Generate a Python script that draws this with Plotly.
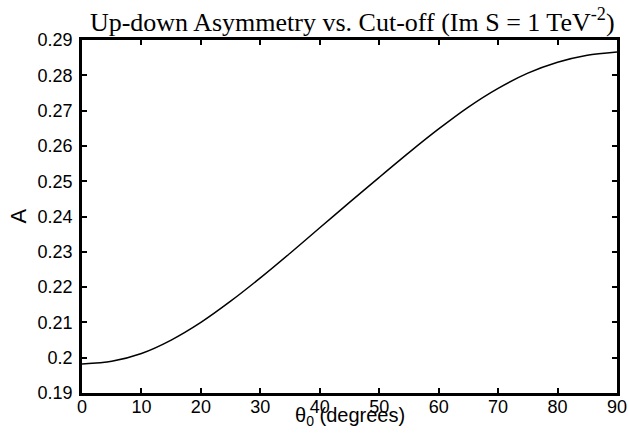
import plotly.graph_objects as go

theta0_deg = [0, 5, 10, 15, 20, 25, 30, 35, 40, 45, 50, 55, 60, 65, 70, 75, 80, 85, 90]
asymmetry_A = [0.1982, 0.1990, 0.2012, 0.2050, 0.2100, 0.2160, 0.2226, 0.2296, 0.2368,
               0.2440, 0.2511, 0.2581, 0.2648, 0.2710, 0.2763, 0.2806, 0.2837, 0.2857, 0.2866]

x_ticks = [0, 10, 20, 30, 40, 50, 60, 70, 80, 90]
y_ticks = [0.19, 0.20, 0.21, 0.22, 0.23, 0.24, 0.25, 0.26, 0.27, 0.28, 0.29]
y_tick_labels = ["0.19", "0.2", "0.21", "0.22", "0.23", "0.24", "0.25", "0.26", "0.27", "0.28", "0.29"]

fig = go.Figure()
fig.add_trace(go.Scatter(x=theta0_deg, y=asymmetry_A, mode="lines",
                         line=dict(color="black", width=1.5, shape="spline", smoothing=0.8),
                         showlegend=False, hoverinfo="skip"))

sans = "Liberation Sans, Arial, sans-serif"
fig.update_layout(
    width=629, height=434,
    margin=dict(l=82, r=12, t=40, b=41, autoexpand=False),
    paper_bgcolor="white", plot_bgcolor="white",
    title=dict(text="Up-down Asymmetry vs. Cut-off (Im S = 1 TeV<sup>-2</sup>)",
               font=dict(family="Liberation Serif, Times New Roman, serif", size=26, color="black"),
               x=0.56, xanchor="center", y=0.97, yanchor="top"),
    xaxis=dict(range=[0, 90], tickvals=x_ticks, ticks="inside", ticklen=5, tickwidth=1.5,
               tickcolor="black", showline=True, linecolor="black", linewidth=2.5, mirror="ticks",
               showgrid=False, zeroline=False, ticklabelstandoff=-4, automargin=False,
               tickfont=dict(family=sans, size=18, color="black")),
    yaxis=dict(range=[0.19, 0.29], tickvals=y_ticks, ticktext=y_tick_labels, ticks="inside",
               ticklen=5, tickwidth=1.5, tickcolor="black", showline=True, linecolor="black",
               linewidth=2.5, mirror="ticks", showgrid=False, zeroline=False,
               ticklabelstandoff=3, automargin=False,
               tickfont=dict(family=sans, size=18, color="black")),
    annotations=[
        dict(text="θ<sub>0</sub> (degrees)", xref="paper", yref="paper", x=0.5, y=0,
             xanchor="center", yanchor="top", yshift=-9, showarrow=False,
             font=dict(family=sans, size=20, color="black")),
        dict(text="A", xref="paper", yref="paper", x=0, y=0.5, textangle=-90,
             xanchor="center", yanchor="middle", xshift=-64, showarrow=False,
             font=dict(family=sans, size=22, color="black")),
    ],
)

fig.write_html("out.html", config={"displayModeBar": False},
               post_script="document.body.style.margin='0';")
